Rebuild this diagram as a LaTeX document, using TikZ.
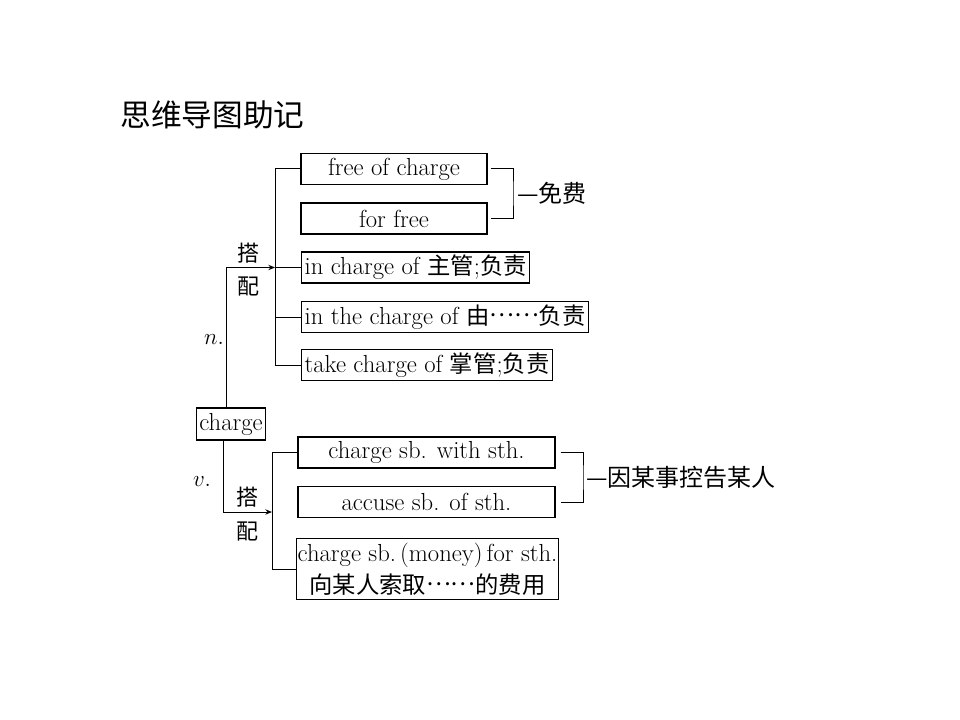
\documentclass[tikz,border=0pt]{standalone}
\usepackage{fontspec}
\newfontfamily\cjk{Noto Sans CJK SC}
\newcommand\zh[1]{{\cjk\fontsize{17.5pt}{21pt}\selectfont #1}}
\newcommand\middots{\raisebox{0.32em}{\zh{……}}}
\usetikzlibrary{positioning,arrows.meta,calc}

\begin{document}
\begin{tikzpicture}[x=0.75pt,y=-0.75pt,line width=0.75pt,
  box/.style={draw,line width=1pt,minimum height=23.25pt,inner xsep=2.2pt,inner ysep=1pt,font=\fontsize{18.5pt}{22pt}\selectfont},
  pair/.style={box,minimum width=139.5pt},
  lab/.style={inner sep=0pt,font=\cjk\fontsize{16.5pt}{19pt}\selectfont},
  gloss/.style={inner sep=0pt,anchor=west,font=\cjk\fontsize{18pt}{21pt}\selectfont},
  arr/.style={-{Stealth[length=5pt,width=4pt]}}]
\useasboundingbox (0,0) rectangle (960,720);
\node[anchor=west,inner sep=0pt,font=\cjk\fontsize{23pt}{27pt}\selectfont] (title) at (120,115) {思维导图助记};
% noun
\node[pair] (free) at (394,169) {free of charge};
\node[pair] (forfree) at (394,218.5) {for free};
\node[box,anchor=west] (incharge) at (301,267.5) {in charge of \zh{主管};\zh{负责}};
\node[box,anchor=west] (inthe) at (301,317) {in the charge of \zh{由}\middots\zh{负责}};
\node[box,anchor=west] (take) at (301,365) {take charge of \zh{掌管};\zh{负责}};
\node[box,minimum width=51pt,minimum height=24pt] (charge) at (231,424) {charge};
% verb
\node[box,minimum width=192.75pt] (with) at (426.5,452.5) {charge sb. with sth.};
\node[box,minimum width=192.75pt] (accuse) at (426.5,502) {accuse sb. of sth.};
\node[box,align=center,inner xsep=1pt,inner ysep=3pt,font=\fontsize{18.5pt}{24pt}\selectfont] (money) at (427.5,569) {charge sb.\,(money)\,for sth.\\\zh{向某人索取}\middots\zh{的费用}};
\coordinate (nfork) at (275,267.5);
\coordinate (vfork) at (272,512);
\coordinate (fr) at (513,193.5);
\coordinate (vr) at (583,477.5);
\node[lab] (nda) at (248,253) {搭};
\node[lab] (npei) at (248,287) {配};
\node[lab] (vda) at (247,497) {搭};
\node[lab] (vpei) at (247,532) {配};
\node[inner sep=0pt,font=\fontsize{17pt}{20pt}\selectfont] (nlab) at (214,340) {$n.$};
\node[inner sep=0pt,font=\fontsize{17pt}{20pt}\selectfont] (vlab) at (202,482) {$v.$};
\node[gloss] (mianfei) at (517,193.5) {—免费};
\node[gloss] (kong) at (586,477.5) {—因某事控告某人};
% connectors
\draw[arr] ([xshift=-3.75pt]charge.north) |- (nfork);
\draw (nfork |- free.west) -- (nfork |- take.west);
\draw (nfork |- free.west) -- (free.west);
\draw (nfork) -- (incharge.west);
\draw (nfork |- inthe.west) -- (inthe.west);
\draw (nfork |- take.west) -- (take.west);
\draw[arr] ([xshift=-6pt]charge.south) |- (vfork);
\draw (vfork |- with.west) -- (vfork |- money.west);
\draw (vfork |- with.west) -- (with.west);
\draw (vfork |- money.west) -- (money.west);
\draw ($(free.east)+(3,0)$) -| (fr) |- ($(forfree.east)+(3,0)$);
\draw ($(with.east)+(5,0)$) -| (vr) |- ($(accuse.east)+(5,0)$);
\end{tikzpicture}
\end{document}
